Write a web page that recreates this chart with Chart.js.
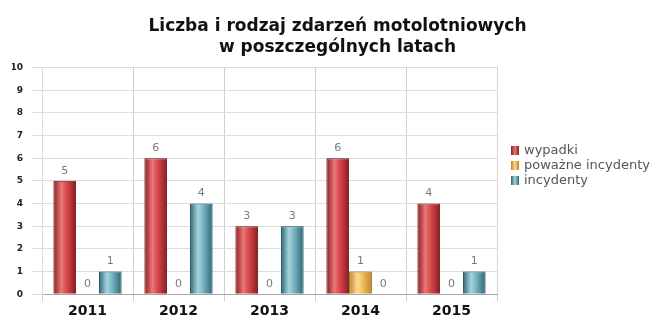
<!DOCTYPE html>
<html>
<head>
<meta charset="utf-8">
<script src="https://cdn.jsdelivr.net/npm/chart.js@4/dist/chart.umd.min.js"></script>
<style>
  html, body { margin: 0; padding: 0; background: #fff; }
  #wrap { position: relative; width: 663px; height: 334px; }
  #legend { position: absolute; left: 511px; top: 142px; font-family: "DejaVu Sans", Verdana, sans-serif; font-size: 13px; color: #555; }
  #legend div { height: 15px; line-height: 15px; white-space: nowrap; }
  #legend span.sw { display: inline-block; width: 8px; height: 9px; margin-right: 5px; vertical-align: -1px; }
</style>
</head>
<body>
<div id="wrap">
  <canvas id="c" width="663" height="334"></canvas>
  <div id="legend"></div>
</div>
<script>
const titleLines = ['Liczba i rodzaj zdarzeń motolotniowych', 'w poszczególnych latach'];
const categories = ['2011', '2012', '2013', '2014', '2015'];
const seriesNames = ['wypadki', 'poważne incydenty', 'incydenty'];
const wypadki = [5, 6, 3, 6, 4];
const powazneIncydenty = [0, 0, 0, 1, 0];
const incydenty = [1, 4, 3, 0, 1];
const yMin = 0, yMax = 10, yStep = 1;

const palettes = [
  { edge: '#8e1a1e', mid: '#dc4c50', hi: '#e8787a', border: '#5e1012', swatch: '#c8282e' },
  { edge: '#c5801f', mid: '#f6c566', hi: '#fbdb93', border: '#8a5a14', swatch: '#e8a838' },
  { edge: '#2c6675', mid: '#7cbac8', hi: '#a6d3dd', border: '#1a4450', swatch: '#4a90a2' }
];

const CAT_PCT = 0.75, BAR_PCT = 1.0;

function barGradient(context) {
  const chart = context.chart;
  const p = palettes[context.datasetIndex];
  const xs = chart.scales && chart.scales.x;
  if (!xs || !chart.chartArea) return p.swatch;
  const catW = xs.width / categories.length;
  const slot = catW * CAT_PCT / 3;
  const bw = slot * BAR_PCT;
  const cx = xs.getPixelForValue(context.dataIndex) + (context.datasetIndex - 1) * slot;
  const x0 = cx - bw / 2, x1 = cx + bw / 2;
  const g = chart.ctx.createLinearGradient(x0, 0, x1, 0);
  g.addColorStop(0, p.edge);
  g.addColorStop(0.35, p.hi);
  g.addColorStop(0.55, p.mid);
  g.addColorStop(1, p.edge);
  return g;
}

const valueLabels = {
  id: 'valueLabels',
  afterDatasetsDraw(chart) {
    const ctx = chart.ctx;
    ctx.save();
    ctx.font = '11px "DejaVu Sans", Verdana, sans-serif';
    ctx.fillStyle = '#7a7a7a';
    ctx.textAlign = 'center';
    ctx.textBaseline = 'middle';
    chart.data.datasets.forEach((ds, di) => {
      const meta = chart.getDatasetMeta(di);
      meta.data.forEach((el, i) => {
        ctx.fillText(String(ds.data[i]), el.x, el.y - 10);
      });
    });
    ctx.restore();
  }
};

const rightBorder = {
  id: 'rightBorder',
  beforeDatasetsDraw(chart) {
    const a = chart.chartArea, ctx = chart.ctx;
    ctx.save();
    ctx.strokeStyle = '#d4d4d4';
    ctx.lineWidth = 1;
    ctx.beginPath();
    ctx.moveTo(Math.round(a.right) + 0.5, a.top);
    ctx.lineTo(Math.round(a.right) + 0.5, a.bottom);
    ctx.stroke();
    ctx.restore();
  }
};

const datasets = [wypadki, powazneIncydenty, incydenty].map((arr, i) => ({
  label: seriesNames[i],
  data: arr,
  backgroundColor: barGradient,
  borderColor: palettes[i].border,
  borderWidth: 1,
  borderSkipped: 'bottom',
  categoryPercentage: CAT_PCT,
  barPercentage: BAR_PCT
}));

new Chart(document.getElementById('c'), {
  type: 'bar',
  data: { labels: categories, datasets },
  options: {
    responsive: false,
    animation: false,
    layout: { padding: { left: 12, right: 0, top: 0, bottom: 12 } },
    plugins: {
      legend: { display: false },
      tooltip: { enabled: false },
      title: {
        display: true,
        text: titleLines,
        color: '#111',
        font: { family: '"DejaVu Sans", Verdana, sans-serif', size: 17, weight: 'bold', lineHeight: 1.25 },
        padding: { top: 16, bottom: 9 }
      }
    },
    scales: {
      x: {
        offset: true,
        grid: { display: true, offset: true, color: '#cfcfcf', tickLength: 7, drawTicks: true },
        border: { display: true, color: '#a8a8a8' },
        ticks: { color: '#111', font: { family: '"DejaVu Sans", Verdana, sans-serif', size: 14, weight: 'bold' }, padding: 2 }
      },
      y: {
        min: yMin, max: yMax,
        afterFit(scale) { scale.width = 30; },
        ticks: { stepSize: yStep, color: '#222', padding: 9, font: { family: '"DejaVu Sans", Verdana, sans-serif', size: 9, weight: 'bold' } },
        grid: { color: '#dcdcdc', tickLength: 10, drawTicks: true },
        border: { display: true, color: '#dcdcdc' }
      },
      yR: {
        position: 'right',
        display: true,
        afterFit(scale) { scale.width = 166; },
        grid: { display: false },
        border: { display: false },
        ticks: { display: false }
      }
    }
  },
  plugins: [valueLabels, rightBorder]
});

const legend = document.getElementById('legend');
seriesNames.forEach((name, i) => {
  const row = document.createElement('div');
  const sw = document.createElement('span');
  sw.className = 'sw';
  sw.style.background = 'linear-gradient(to right,' + palettes[i].edge + ',' + palettes[i].hi + ',' + palettes[i].edge + ')';
  row.appendChild(sw);
  row.appendChild(document.createTextNode(name));
  legend.appendChild(row);
});
</script>
</body>
</html>
